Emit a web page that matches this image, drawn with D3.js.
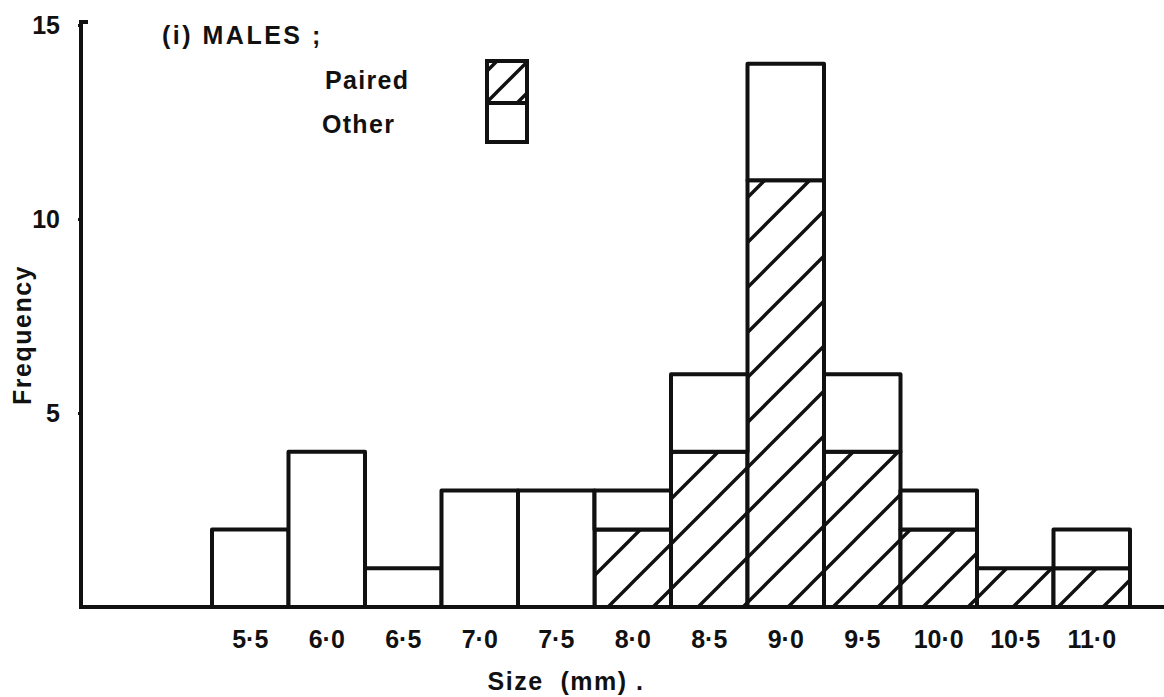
<!DOCTYPE html>
<html>
<head>
<meta charset="utf-8">
<script src="https://cdn.jsdelivr.net/npm/d3@7"></script>
<style>
  body { margin: 0; background: #fff; }
  svg { display: block; }
  text { font-family: "Liberation Sans", Arial, sans-serif; font-weight: bold; fill: #111; white-space: pre; }
</style>
</head>
<body>
<svg id="chart" width="1164" height="697"></svg>
<script>
// size classes (mm), bar centres
const sizes = [5.5, 6.0, 6.5, 7.0, 7.5, 8.0, 8.5, 9.0, 9.5, 10.0, 10.5, 11.0];
const sizeLabels = ["5·5", "6·0", "6·5", "7·0", "7·5", "8·0", "8·5", "9·0", "9·5", "10·0", "10·5", "11·0"];
// frequencies
const paired = [0, 0, 0, 0, 0, 2, 4, 11, 4, 2, 1, 1];
const other  = [2, 4, 1, 3, 3, 1, 2, 3, 2, 1, 0, 1];
const yTicks = [5, 10, 15];

const svg = d3.select('#chart');
const ink = '#111';
const fs = 25;

// scales
let x = d3.scaleLinear().domain([5.25, 11.25]).range([212, 1130]);
let y = d3.scaleLinear().domain([0, 15]).range([607, 25]);
let binW = x(5.75) - x(5.25);

// hatch patterns
let defs = svg.append('defs');
function hatch(id, s) {
    let p = defs.append('pattern')
        .attr('id', id)
        .attr('patternUnits', 'userSpaceOnUse')
        .attr('width', s).attr('height', s);
    p.append('rect').attr('width', s).attr('height', s).attr('fill', '#fff');
    p.append('path')
        .attr('d', `M0,${s} L${s},0 M${-s/4},${s/4} L${s/4},${-s/4} M${s*3/4},${s*5/4} L${s*5/4},${s*3/4}`)
        .attr('stroke', ink).attr('stroke-width', 3.4);
}
hatch('hatch', 45);
hatch('hatchSmall', 31);

// stack the two series
let table = sizes.map((s, i) => ({ size: s, paired: paired[i], other: other[i] }));
let stack = d3.stack().keys(['paired', 'other'])(table);

let bars = svg.append('g').attr('id', 'bars');
stack.forEach(function(layer) {
    bars.append('g')
        .selectAll('rect')
        .data(layer.filter(d => d[1] > d[0]))
        .join('rect')
        .attr('x', d => x(d.data.size) - binW / 2)
        .attr('width', binW)
        .attr('y', d => y(d[1]))
        .attr('height', d => y(d[0]) - y(d[1]))
        .attr('fill', layer.key === 'paired' ? 'url(#hatch)' : '#fff')
        .attr('stroke', ink)
        .attr('stroke-width', 4)
        .attr('stroke-linejoin', 'round');
});

// x axis: baseline plus labels under each bar
svg.append('line')
    .attr('x1', 79).attr('x2', 1164)
    .attr('y1', y(0)).attr('y2', y(0))
    .attr('stroke', ink).attr('stroke-width', 4);

svg.append('g').selectAll('text')
    .data(sizes)
    .join('text')
    .attr('x', d => x(d))
    .attr('y', 648)
    .attr('text-anchor', 'middle')
    .attr('font-size', fs)
    .text((d, i) => sizeLabels[i]);

svg.append('text')
    .attr('x', 566).attr('y', 690)
    .attr('text-anchor', 'middle')
    .attr('font-size', fs)
    .attr('letter-spacing', 1.5)
    .text('Size  (mm) .');

// y axis
let yAxis = d3.axisLeft(y)
    .tickValues(yTicks)
    .tickSize(3)
    .tickPadding(18)
    .tickFormat(d3.format('d'));
let ya = svg.append('g')
    .attr('transform', 'translate(81,0)')
    .call(yAxis);
ya.select('.domain').remove();
ya.selectAll('.tick line').attr('stroke', ink).attr('stroke-width', 3);
ya.selectAll('.tick text')
    .attr('font-size', fs)
    .attr('font-family', '"Liberation Sans", Arial, sans-serif')
    .attr('fill', ink);

svg.append('path')
    .attr('d', `M81,${y(0)} V${y(15) - 3} H88`)
    .attr('fill', 'none')
    .attr('stroke', ink).attr('stroke-width', 4);

svg.append('text')
    .attr('transform', 'translate(31,335) rotate(-90)')
    .attr('text-anchor', 'middle')
    .attr('font-size', fs)
    .attr('letter-spacing', 1.5)
    .text('Frequency');

// title and legend
svg.append('text')
    .attr('x', 162).attr('y', 44)
    .attr('font-size', fs)
    .attr('letter-spacing', 2.5)
    .text('(i) MALES ;');

svg.append('text').attr('x', 325).attr('y', 89).attr('font-size', fs).attr('letter-spacing', 1.3).text('Paired');
svg.append('text').attr('x', 322).attr('y', 133).attr('font-size', fs).attr('letter-spacing', 1.3).text('Other');

svg.append('rect')
    .attr('x', 487).attr('y', 61).attr('width', 40).attr('height', 42)
    .attr('fill', 'url(#hatchSmall)')
    .attr('stroke', ink).attr('stroke-width', 4);
svg.append('rect')
    .attr('x', 487).attr('y', 103).attr('width', 40).attr('height', 39)
    .attr('fill', '#fff')
    .attr('stroke', ink).attr('stroke-width', 4);
</script>
</body>
</html>
